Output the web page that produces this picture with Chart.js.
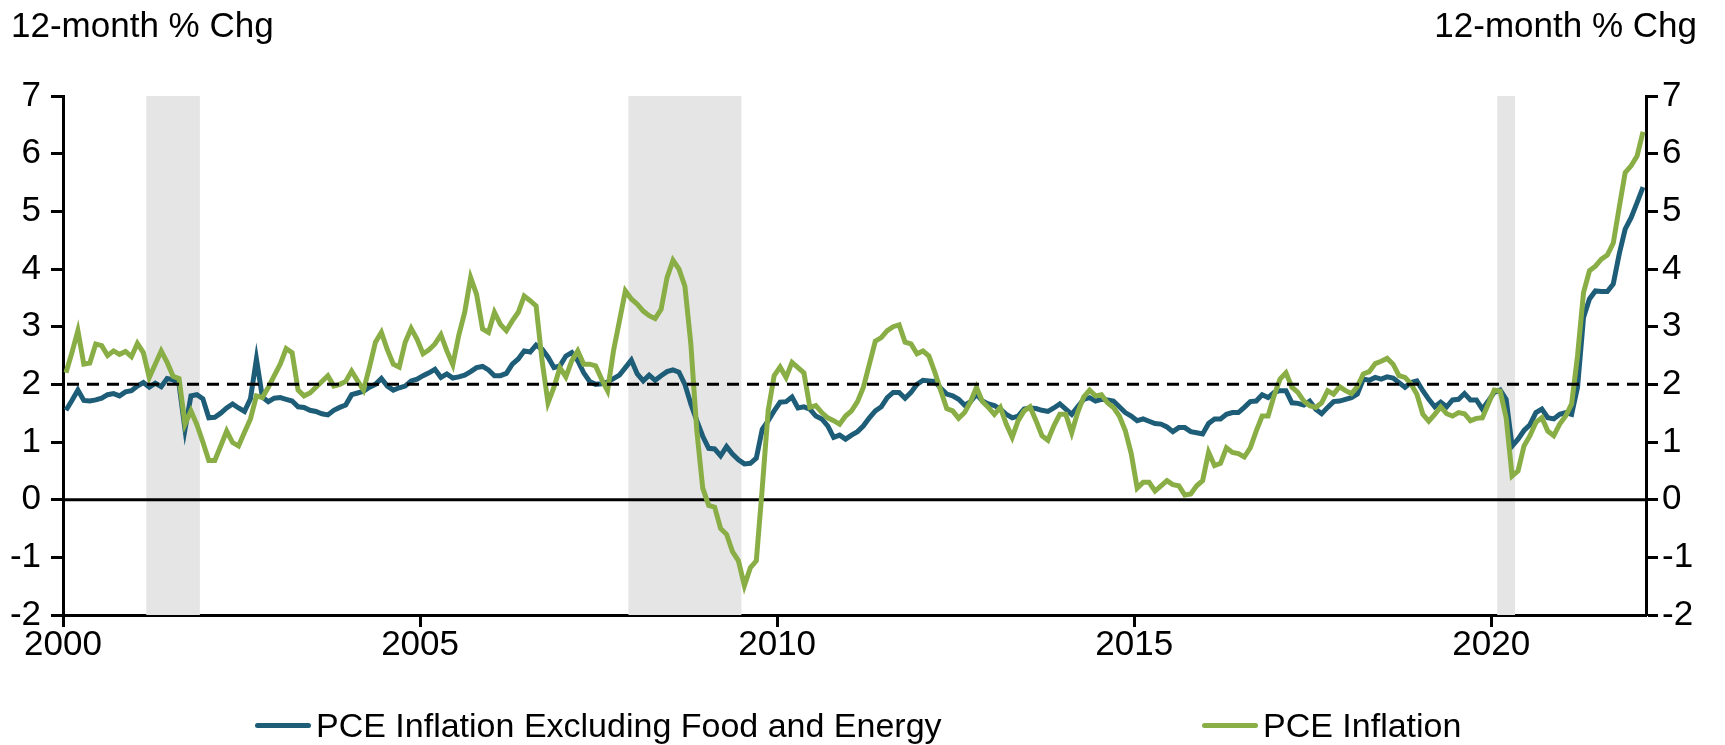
<!DOCTYPE html>
<html>
<head>
<meta charset="utf-8">
<script src="https://cdn.jsdelivr.net/npm/chart.js@4.4.1/dist/chart.umd.min.js"></script>
<style>
	body { margin: 0; background: #fff; }
	#wrap { position: relative; width: 1725px; height: 745px; font-family: "Liberation Sans", Arial, sans-serif; color: #000; }
	#chart { position: absolute; left: 0; top: 0; }
	.unit { position: absolute; top: 7px; font-size: 35px; line-height: 35px; white-space: nowrap; }
	#unitLeft { left: 11px; }
	#unitRight { right: 28px; }
	.item { position: absolute; top: 707px; height: 36px; display: flex; align-items: center; font-size: 34px; line-height: 36px; white-space: nowrap; }
	.swatch { display: inline-block; width: 56px; height: 5px; border-radius: 3px; margin-right: 5px; }
</style>
</head>
<body>
<div id="wrap">
	<canvas id="chart" width="1725" height="745"></canvas>
	<div class="unit" id="unitLeft">12-month % Chg</div>
	<div class="unit" id="unitRight">12-month % Chg</div>
	<div id="legend"></div>
</div>
<script>
// monthly 12-month % change, Jan 2000 .. Feb 2022
const corePce = [
	1.55, 1.72, 1.90, 1.72, 1.71, 1.73, 1.76, 1.82, 1.84, 1.80, 1.87, 1.89,
	1.97, 2.03, 1.95, 2.02, 1.96, 2.10, 2.08, 2.00, 1.22, 1.80, 1.82, 1.75,
	1.42, 1.43, 1.50, 1.59, 1.66, 1.59, 1.53, 1.75, 2.44, 1.78, 1.70, 1.76,
	1.77, 1.74, 1.71, 1.61, 1.60, 1.55, 1.53, 1.49, 1.47, 1.55, 1.60, 1.64,
	1.82, 1.85, 1.88, 1.95, 2.00, 2.10, 1.97, 1.90, 1.94, 1.97, 2.06, 2.09,
	2.15, 2.20, 2.26, 2.12, 2.18, 2.11, 2.13, 2.16, 2.22, 2.29, 2.31, 2.25,
	2.15, 2.15, 2.19, 2.35, 2.44, 2.58, 2.56, 2.68, 2.61, 2.47, 2.29, 2.32,
	2.49, 2.55, 2.41, 2.20, 2.05, 2.00, 2.01, 2.04, 2.10, 2.16, 2.29, 2.42,
	2.18, 2.06, 2.16, 2.07, 2.15, 2.22, 2.25, 2.21, 2.00, 1.66, 1.37, 1.10,
	0.89, 0.88, 0.76, 0.92, 0.79, 0.69, 0.62, 0.63, 0.72, 1.22, 1.37, 1.54,
	1.69, 1.70, 1.78, 1.59, 1.61, 1.57, 1.45, 1.40, 1.28, 1.08, 1.12, 1.05,
	1.12, 1.18, 1.28, 1.42, 1.54, 1.61, 1.77, 1.86, 1.86, 1.76, 1.86, 2.00,
	2.07, 2.06, 2.05, 1.93, 1.83, 1.80, 1.74, 1.64, 1.70, 1.83, 1.71, 1.66,
	1.63, 1.57, 1.48, 1.42, 1.45, 1.57, 1.59, 1.58, 1.55, 1.53, 1.59, 1.66,
	1.57, 1.48, 1.61, 1.74, 1.77, 1.71, 1.74, 1.73, 1.71, 1.61, 1.51, 1.45,
	1.37, 1.40, 1.36, 1.32, 1.31, 1.26, 1.18, 1.25, 1.25, 1.18, 1.16, 1.14,
	1.32, 1.40, 1.40, 1.48, 1.51, 1.51, 1.60, 1.70, 1.71, 1.82, 1.77, 1.86,
	1.89, 1.89, 1.68, 1.67, 1.64, 1.71, 1.57, 1.49, 1.60, 1.70, 1.71, 1.74,
	1.77, 1.83, 2.09, 2.07, 2.12, 2.09, 2.13, 2.11, 2.03, 1.95, 2.03, 2.06,
	1.89, 1.74, 1.61, 1.69, 1.61, 1.73, 1.74, 1.84, 1.73, 1.73, 1.57, 1.71,
	1.86, 1.90, 1.74, 0.93, 1.05, 1.20, 1.30, 1.51, 1.57, 1.42, 1.40, 1.48,
	1.51, 1.48, 1.95, 3.16, 3.48, 3.62, 3.61, 3.61, 3.74, 4.26, 4.69, 4.89,
	5.15, 5.42
];

const headlinePce = [
	2.20, 2.55, 2.93, 2.35, 2.37, 2.70, 2.67, 2.50, 2.58, 2.52, 2.57, 2.48,
	2.71, 2.55, 2.12, 2.35, 2.58, 2.38, 2.14, 2.10, 1.31, 1.54, 1.30, 1.00,
	0.68, 0.68, 0.93, 1.19, 0.99, 0.93, 1.17, 1.40, 1.80, 1.77, 1.95, 2.15,
	2.35, 2.62, 2.55, 1.90, 1.80, 1.85, 1.95, 2.05, 2.15, 1.97, 2.00, 2.05,
	2.23, 2.06, 1.90, 2.30, 2.73, 2.90, 2.60, 2.35, 2.30, 2.73, 2.97, 2.78,
	2.53, 2.60, 2.70, 2.86, 2.58, 2.34, 2.85, 3.25, 3.85, 3.56, 2.96, 2.90,
	3.25, 3.04, 2.93, 3.10, 3.25, 3.53, 3.45, 3.36, 2.41, 1.68, 1.95, 2.29,
	2.13, 2.41, 2.58, 2.35, 2.35, 2.32, 2.09, 1.89, 2.58, 3.10, 3.62, 3.48,
	3.39, 3.27, 3.19, 3.14, 3.30, 3.85, 4.15, 4.00, 3.70, 2.70, 1.20, 0.20,
	-0.10, -0.13, -0.50, -0.60, -0.90, -1.06, -1.49, -1.18, -1.06, 0.20, 1.55, 2.15,
	2.30, 2.12, 2.38, 2.29, 2.20, 1.60, 1.63, 1.51, 1.42, 1.37, 1.31, 1.45,
	1.54, 1.70, 1.95, 2.35, 2.75, 2.81, 2.93, 3.00, 3.03, 2.73, 2.70, 2.53,
	2.58, 2.49, 2.21, 1.89, 1.58, 1.54, 1.41, 1.51, 1.70, 1.95, 1.70, 1.60,
	1.48, 1.60, 1.31, 1.08, 1.37, 1.54, 1.61, 1.37, 1.11, 1.03, 1.28, 1.48,
	1.48, 1.16, 1.51, 1.78, 1.90, 1.80, 1.82, 1.68, 1.60, 1.45, 1.20, 0.80,
	0.20, 0.30, 0.30, 0.15, 0.24, 0.33, 0.26, 0.24, 0.08, 0.10, 0.24, 0.33,
	0.82, 0.59, 0.63, 0.90, 0.82, 0.80, 0.74, 0.90, 1.19, 1.45, 1.45, 1.80,
	2.09, 2.20, 1.95, 1.86, 1.71, 1.63, 1.60, 1.68, 1.89, 1.83, 1.96, 1.89,
	1.84, 1.96, 2.18, 2.22, 2.36, 2.40, 2.45, 2.35, 2.15, 2.12, 2.01, 1.83,
	1.48, 1.36, 1.48, 1.61, 1.49, 1.45, 1.51, 1.49, 1.37, 1.41, 1.42, 1.66,
	1.90, 1.88, 1.42, 0.41, 0.50, 0.93, 1.11, 1.34, 1.42, 1.19, 1.11, 1.31,
	1.45, 1.66, 2.50, 3.59, 3.97, 4.05, 4.17, 4.24, 4.45, 5.07, 5.67, 5.79,
	5.96, 6.38
];

const seriesNames = ["PCE Inflation Excluding Food and Energy", "PCE Inflation"];
const seriesColors = ["#1e5d78", "#8aae46"];
const yearTicks = [2000, 2005, 2010, 2015, 2020];
const yTicks = [-2, -1, 0, 1, 2, 3, 4, 5, 6, 7];
const recessions = [["2001-03", "2001-11"], ["2007-12", "2009-06"], ["2020-02", "2020-04"]];
const inflationTarget = 2;
const lastMonth = "2022-03"; // right edge of the axis

const monthIndex = (ym) => {
	const [y, m] = ym.split("-").map(Number);
	return (y - 2000) * 12 + (m - 1);
};

// points sit in the middle of their month
const toPoints = (arr) => arr.map((v, i) => ({ x: i + 0.5, y: v }));

const FONT = { family: '"Liberation Sans", Arial, sans-serif', size: 35 };

const bandsPlugin = {
	id: "bands",
	beforeDatasetsDraw(chart) {
		const { ctx, chartArea, scales } = chart;
		const x = scales.x, y = scales.y;
		ctx.save();
		ctx.fillStyle = "#e5e5e5";
		recessions.forEach(([a, b]) => {
			const x0 = x.getPixelForValue(monthIndex(a));
			const x1 = x.getPixelForValue(monthIndex(b) + 1);
			ctx.fillRect(x0, chartArea.top, x1 - x0, chartArea.bottom - chartArea.top);
		});
		// zero line
		ctx.strokeStyle = "#000";
		ctx.lineWidth = 3;
		ctx.beginPath();
		ctx.moveTo(chartArea.left, y.getPixelForValue(0));
		ctx.lineTo(chartArea.right, y.getPixelForValue(0));
		ctx.stroke();
		ctx.restore();
	},
	afterDatasetsDraw(chart) {
		const { ctx, chartArea, scales } = chart;
		const yy = scales.y.getPixelForValue(inflationTarget);
		ctx.save();
		ctx.strokeStyle = "#000";
		ctx.lineWidth = 3;
		ctx.setLineDash([12, 8]);
		ctx.beginPath();
		ctx.moveTo(chartArea.left + 4, yy);
		ctx.lineTo(chartArea.right, yy);
		ctx.stroke();
		ctx.restore();
	},
};

const yAxis = (position, width) => ({
	type: "linear",
	position: position,
	min: -2,
	max: 7,
	afterBuildTicks: (s) => { s.ticks = yTicks.map((v) => ({ value: v })); },
	afterFit: (s) => { s.width = width; },
	ticks: { color: "#000", font: FONT, padding: position === "left" ? 10 : 4 },
	grid: { drawOnChartArea: false, drawTicks: true, tickLength: 12, tickWidth: 3, tickColor: "#000" },
	border: { display: true, color: "#000", width: 3 },
});

new Chart(document.getElementById("chart").getContext("2d"), {
	type: "line",
	data: {
		datasets: [
			{
				label: seriesNames[0],
				data: toPoints(corePce),
				borderColor: seriesColors[0],
				borderWidth: 5,
				pointRadius: 0,
				tension: 0,
				order: 1,
			},
			{
				label: seriesNames[1],
				data: toPoints(headlinePce),
				borderColor: seriesColors[1],
				borderWidth: 5,
				pointRadius: 0,
				tension: 0,
				order: 0,
			},
		],
	},
	options: {
		responsive: false,
		animation: false,
		layout: { padding: { top: 96, left: 0, right: 0, bottom: 0 } },
		plugins: { legend: { display: false }, tooltip: { enabled: false } },
		scales: {
			x: {
				type: "linear",
				min: 0,
				max: monthIndex(lastMonth),
				afterBuildTicks: (s) => { s.ticks = yearTicks.map((yr) => ({ value: monthIndex(yr + "-01") })); },
				afterFit: (s) => { s.height = 130; },
				ticks: {
					color: "#000",
					font: FONT,
					padding: -3,
					maxRotation: 0,
					autoSkip: false,
					callback: (v) => String(2000 + Math.round(v / 12)),
				},
				grid: { drawOnChartArea: false, drawTicks: true, tickLength: 12, tickWidth: 3, tickColor: "#000" },
				border: { display: true, color: "#000", width: 3 },
			},
			y: yAxis("left", 63),
			y2: yAxis("right", 79),
		},
	},
	plugins: [bandsPlugin],
});

// legend
const legendSpots = [255, 1202];
const legend = document.getElementById("legend");
seriesNames.forEach((name, i) => {
	const item = document.createElement("div");
	item.className = "item";
	item.style.left = legendSpots[i] + "px";
	const sw = document.createElement("span");
	sw.className = "swatch";
	sw.style.background = seriesColors[i];
	item.appendChild(sw);
	item.appendChild(document.createTextNode(name));
	legend.appendChild(item);
});
</script>
</body>
</html>
